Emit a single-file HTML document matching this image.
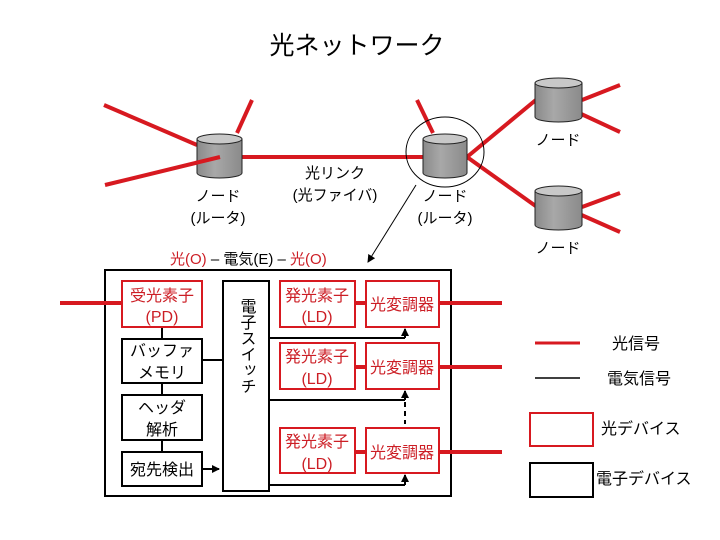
<!DOCTYPE html>
<html><head><meta charset="utf-8"><style>
html,body{margin:0;padding:0;background:#fff;width:720px;height:540px;overflow:hidden}
svg{display:block}
text{font-family:"Liberation Sans","Noto Sans CJK JP",sans-serif}
</style></head><body>
<svg width="720" height="540" viewBox="0 0 720 540" xmlns="http://www.w3.org/2000/svg">
<defs>
<linearGradient id="g" x1="0" x2="1"><stop offset="0" stop-color="#8a8a8a"/><stop offset="0.4" stop-color="#a8a8a8"/><stop offset="1" stop-color="#8a8a8a"/></linearGradient>
<marker id="ar" markerWidth="8" markerHeight="8" refX="7" refY="4" orient="auto" markerUnits="userSpaceOnUse"><path d="M0,0 L8,4 L0,8 z" fill="#000"/></marker>
</defs>
<text x="357" y="54" font-size="25" text-anchor="middle">光ネットワーク</text>

<g stroke="#d71920" stroke-width="4" stroke-linecap="butt">
<line x1="104" y1="105" x2="197" y2="145"/>
<line x1="252" y1="100" x2="237" y2="133"/>
<line x1="105" y1="185" x2="220" y2="157"/>
<line x1="242" y1="157" x2="423" y2="157"/>
<line x1="417" y1="100" x2="433" y2="133"/>
<line x1="467" y1="157" x2="537" y2="99"/>
<line x1="467" y1="157" x2="537" y2="207"/>
<line x1="582" y1="100" x2="620" y2="85"/>
<line x1="564" y1="106" x2="620" y2="132"/>
<line x1="582" y1="207" x2="620" y2="193"/>
<line x1="577" y1="213" x2="620" y2="232"/>
</g>

<g stroke="#222" stroke-width="1">
<path d="M197,139 v34 a22.5,5 0 0 0 45,0 v-34" fill="url(#g)"/>
<ellipse cx="219.5" cy="139" rx="22.5" ry="5" fill="#c8c8c8"/>
<path d="M423,139 v34 a22,5 0 0 0 44,0 v-34" fill="url(#g)"/>
<ellipse cx="445" cy="139" rx="22" ry="5" fill="#c8c8c8"/>
<path d="M535,83 v34 a23.5,5 0 0 0 47,0 v-34" fill="url(#g)"/>
<ellipse cx="558.5" cy="83" rx="23.5" ry="5" fill="#c8c8c8"/>
<path d="M535,191 v34 a23.5,5 0 0 0 47,0 v-34" fill="url(#g)"/>
<ellipse cx="558.5" cy="191" rx="23.5" ry="5" fill="#c8c8c8"/>
</g>
<line x1="196" y1="162.8" x2="220" y2="157" stroke="#d71920" stroke-width="4"/>
<ellipse cx="445" cy="152" rx="39" ry="35" fill="none" stroke="#000" stroke-width="1"/>
<line x1="416" y1="185" x2="368" y2="262" stroke="#000" stroke-width="1" marker-end="url(#ar)"/>

<g font-size="15" text-anchor="middle">
<text x="218" y="201">ノード</text><text x="218" y="223">(ルータ)</text>
<text x="335" y="178">光リンク</text><text x="335" y="200">(光ファイバ)</text>
<text x="445" y="201">ノード</text><text x="445" y="223">(ルータ)</text>
<text x="558" y="145">ノード</text><text x="558" y="253">ノード</text>
</g>
<text x="170" y="264" font-size="15"><tspan fill="#cc1e25">光(O)</tspan> – 電気(E) – <tspan fill="#cc1e25">光(O)</tspan></text>

<rect x="105" y="270" width="346" height="226" fill="none" stroke="#000" stroke-width="2"/>
<line x1="60" y1="303" x2="122" y2="303" stroke="#d71920" stroke-width="4"/>

<g stroke="#000" stroke-width="2">
<line x1="162" y1="327" x2="162" y2="452"/>
<line x1="202" y1="360" x2="223" y2="360"/>
<line x1="269" y1="338" x2="405" y2="338"/>
<line x1="405" y1="338" x2="405" y2="329" marker-end="url(#ar)"/>
<line x1="269" y1="400" x2="405" y2="400"/>
<line x1="405" y1="400" x2="405" y2="391" marker-end="url(#ar)"/>
<line x1="269" y1="485" x2="405" y2="485"/>
<line x1="405" y1="485" x2="405" y2="475" marker-end="url(#ar)"/>
<line x1="405" y1="402" x2="405" y2="424" stroke-dasharray="5,4"/>
<line x1="202" y1="469" x2="219" y2="469" marker-end="url(#ar)"/>
</g>

<g fill="#fff" stroke="#000" stroke-width="2">
<rect x="122" y="339" width="80" height="44"/>
<rect x="122" y="395" width="80" height="45"/>
<rect x="122" y="452" width="80" height="34"/>
<rect x="223" y="281" width="46" height="210"/>
</g>
<g stroke="#d71920" stroke-width="4">
<line x1="355" y1="303" x2="366" y2="303"/>
<line x1="355" y1="367" x2="366" y2="367"/>
<line x1="355" y1="452" x2="366" y2="452"/>
<line x1="439" y1="303" x2="502" y2="303"/>
<line x1="439" y1="367" x2="502" y2="367"/>
<line x1="439" y1="452" x2="502" y2="452"/>
</g>
<g fill="#fff" stroke="#d71920" stroke-width="2">
<rect x="122" y="281" width="80" height="46"/>
<rect x="280" y="281" width="75" height="46"/>
<rect x="366" y="281" width="73" height="46"/>
<rect x="280" y="343" width="75" height="46"/>
<rect x="366" y="343" width="73" height="46"/>
<rect x="280" y="428" width="75" height="45"/>
<rect x="366" y="428" width="73" height="45"/>
</g>

<g font-size="16" text-anchor="middle" fill="#cc1e25">
<text x="162" y="301">受光素子</text><text x="162" y="322">(PD)</text>
<text x="317" y="301">発光素子</text><text x="317" y="322">(LD)</text>
<text x="402" y="310">光変調器</text>
<text x="317" y="362">発光素子</text><text x="317" y="384">(LD)</text>
<text x="402" y="373">光変調器</text>
<text x="317" y="447">発光素子</text><text x="317" y="469">(LD)</text>
<text x="402" y="458">光変調器</text>
</g>
<g font-size="16" text-anchor="middle">
<text x="162" y="356">バッファ</text><text x="162" y="378">メモリ</text>
<text x="162" y="413">ヘッダ</text><text x="162" y="435">解析</text>
<text x="162" y="475">宛先検出</text>
<text x="246" y="346" writing-mode="tb">電子スイッチ</text>
</g>

<line x1="535" y1="343" x2="580" y2="343" stroke="#d71920" stroke-width="3"/>
<line x1="535" y1="378" x2="580" y2="378" stroke="#000" stroke-width="1.5"/>
<rect x="530" y="413" width="63" height="33" fill="none" stroke="#d71920" stroke-width="2"/>
<rect x="530" y="463" width="63" height="34" fill="none" stroke="#000" stroke-width="2"/>
<g font-size="16">
<text x="612" y="349">光信号</text>
<text x="607" y="384">電気信号</text>
<text x="601" y="434">光デバイス</text>
<text x="596" y="484">電子デバイス</text>
</g>
</svg>
</body></html>
